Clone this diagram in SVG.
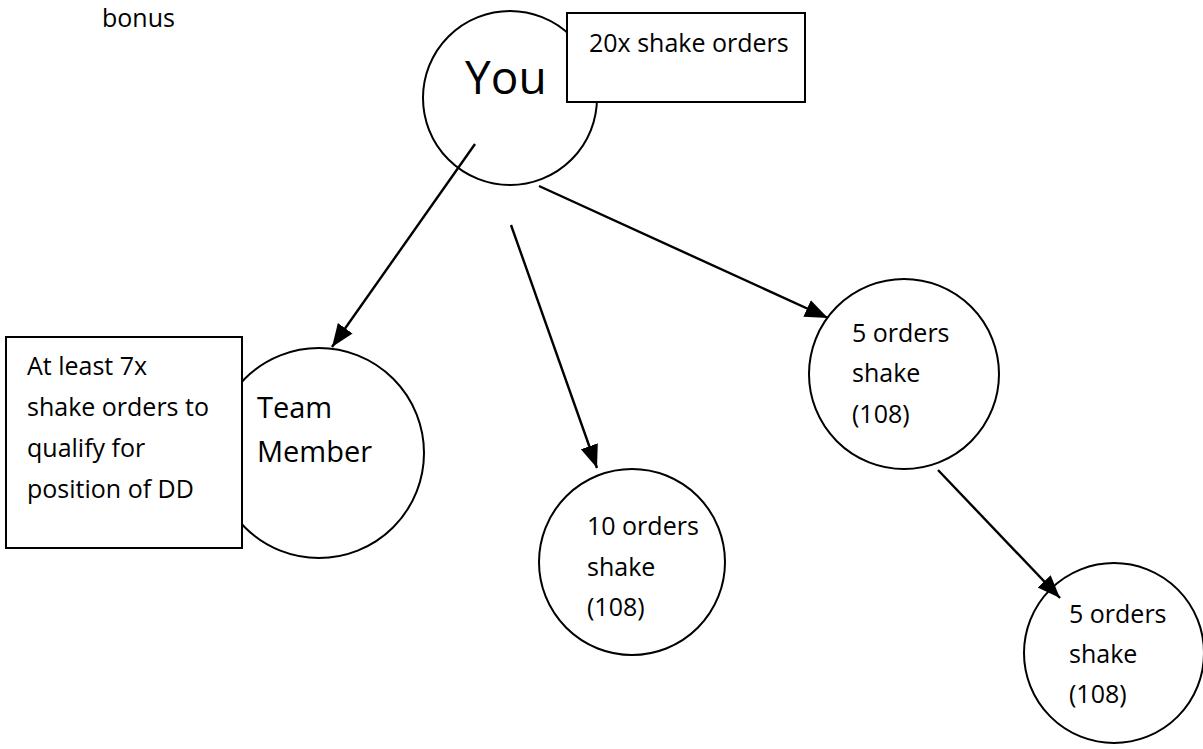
<svg xmlns="http://www.w3.org/2000/svg" width="1203" height="749" viewBox="0 0 1203 749">
  <style>
    .node { fill: #ffffff; stroke: #000000; stroke-width: 2; }
    .note { fill: #ffffff; stroke: #000000; stroke-width: 2; }
    .label { font-family: "Open Sans", "Liberation Sans", sans-serif; font-size: 25px; fill: #000000; }
    .big { font-size: 29px; }
    .title { font-size: 46px; }
    .edge { stroke: #000000; stroke-width: 2.4; fill: none; marker-end: url(#arrow); }
  </style>
  <defs>
    <marker id="arrow" markerUnits="userSpaceOnUse" markerWidth="24" markerHeight="20" viewBox="0 0 24 20" refX="23" refY="10" orient="auto">
      <path d="M0,1 L23,10 L0,19 Z" fill="#000000"/>
    </marker>
  </defs>
  <rect width="1203" height="749" fill="#ffffff"/>

  <text class="label" x="102" y="27">bonus</text>

  <!-- top node with its note -->
  <g id="you">
    <circle class="node" cx="510" cy="98" r="87"/>
    <text class="label title" x="465" y="94">You</text>
  </g>
  <g id="note-top">
    <rect class="note" x="567" y="13" width="238" height="89"/>
    <text class="label" x="589" y="52">20x shake orders</text>
  </g>

  <!-- team member with its note -->
  <g id="team-member">
    <circle class="node" cx="319" cy="453" r="105"/>
    <text class="label big" x="257" y="418">Team</text>
    <text class="label big" x="257" y="462">Member</text>
  </g>
  <g id="note-left">
    <rect class="note" x="6" y="337" width="236" height="211"/>
    <text class="label" x="27" y="375">At least 7x</text>
    <text class="label" x="27" y="416">shake orders to</text>
    <text class="label" x="27" y="457">qualify for</text>
    <text class="label" x="27" y="498">position of DD</text>
  </g>

  <g id="ten-orders">
    <circle class="node" cx="632" cy="562" r="93"/>
    <text class="label" x="587" y="535">10 orders</text>
    <text class="label" x="587" y="576">shake</text>
    <text class="label" x="587" y="616">(108)</text>
  </g>

  <g id="five-orders-a">
    <circle class="node" cx="904" cy="374" r="95"/>
    <text class="label" x="852" y="342">5 orders</text>
    <text class="label" x="852" y="382">shake</text>
    <text class="label" x="852" y="423">(108)</text>
  </g>

  <g id="five-orders-b">
    <circle class="node" cx="1114" cy="653" r="90"/>
    <text class="label" x="1069" y="623">5 orders</text>
    <text class="label" x="1069" y="663">shake</text>
    <text class="label" x="1069" y="703">(108)</text>
  </g>

  <g id="connectors">
    <line class="edge" x1="475" y1="144" x2="332" y2="347"/>
    <line class="edge" x1="511" y1="225" x2="597" y2="468"/>
    <line class="edge" x1="539" y1="186" x2="828" y2="318"/>
    <line class="edge" x1="938" y1="470" x2="1060" y2="598"/>
  </g>
</svg>
